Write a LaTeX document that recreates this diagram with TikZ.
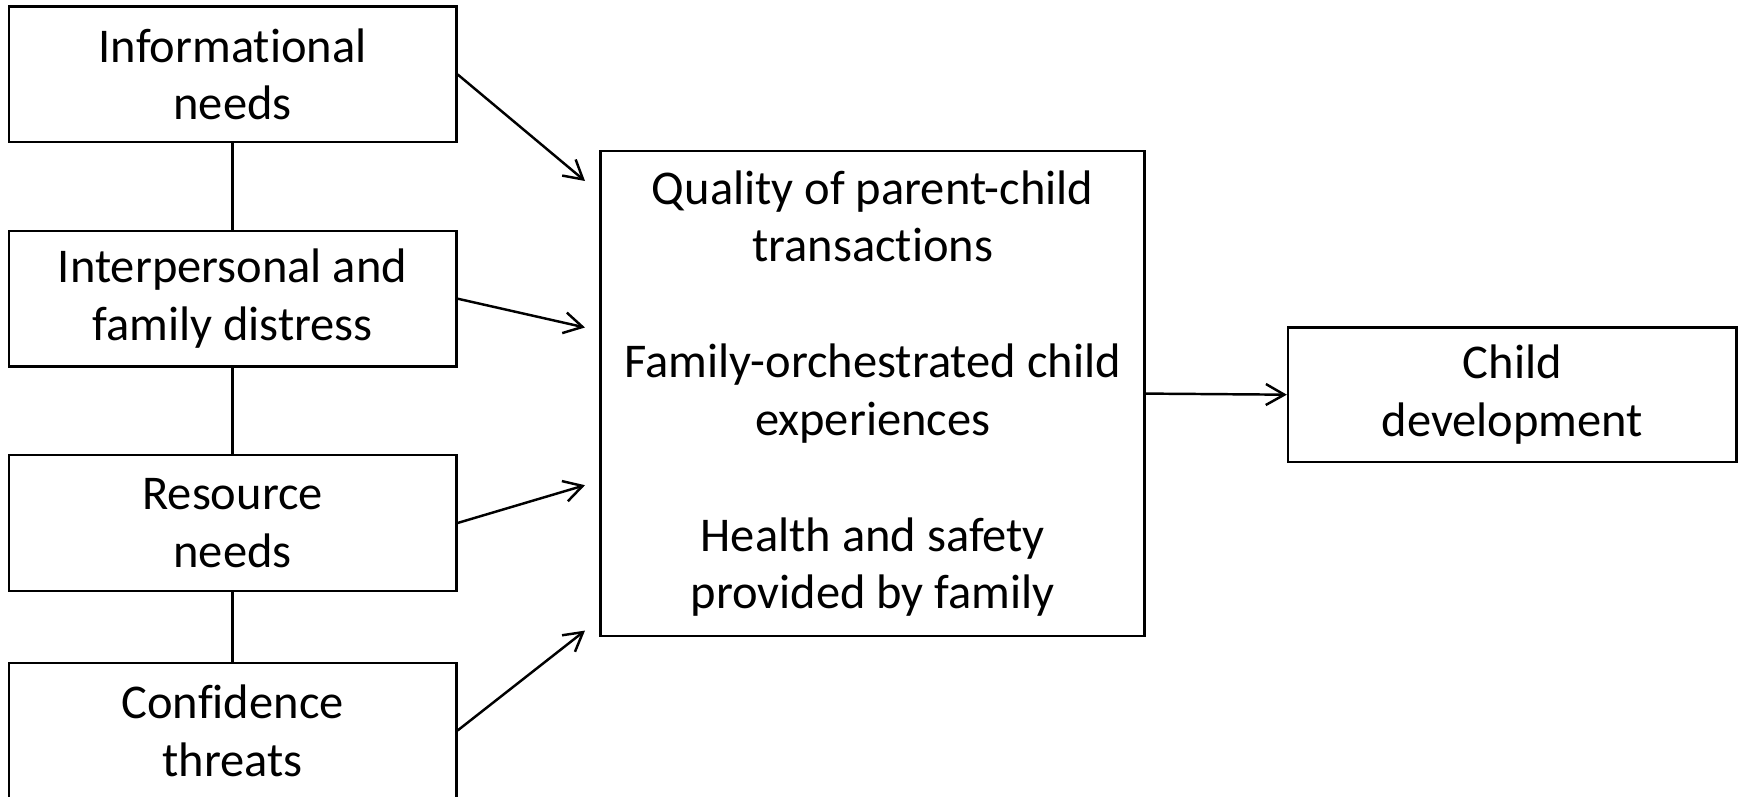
\documentclass[tikz,border=0pt]{standalone}
\usepackage{fontspec}
\setmainfont{Carlito}[Ligatures=NoCommon]
\usetikzlibrary{arrows.meta}
\begin{document}
\begin{tikzpicture}[x=1cm,y=1cm,
  box/.style={draw, line width=0.7pt, minimum width=4.475cm, minimum height=1.355cm, align=center, inner sep=0pt, font=\fontsize{13.8pt}{16.45pt}\selectfont},
  conn/.style={line width=0.7pt},
  arr/.style={line width=0.7pt, -{Straight Barb[length=1.85mm, width=2.1mm]}}]
\useasboundingbox (0,0) rectangle (17.41,7.97);
\node[box] (info) at (2.326,7.226) {Informational\\needs};
\node[box] (inter) at (2.326,4.983) {Interpersonal and\\family distress};
\node[box] (res) at (2.326,2.74) {Resource\\needs};
\node[box] (conf) at (2.326,0.665) {Confidence\\threats};
\node[box, minimum width=5.44cm, minimum height=4.852cm] (mid) at (8.727,4.034)
  {Quality of parent-child\\transactions\\[16.45pt]Family-orchestrated child\\experiences\\[16.45pt]Health and safety\\provided by family};
\node[box, minimum width=4.485cm, minimum height=1.344cm] (dev) at (15.123,4.023) {Child\\development};
\coordinate (t1) at (5.85,6.16);
\coordinate (t2) at (5.85,4.695);
\coordinate (t3) at (5.85,3.118);
\coordinate (t4) at (5.85,1.664);
\draw[conn] (info.south) -- (inter.north);
\draw[conn] (inter.south) -- (res.north);
\draw[conn] (res.south) -- (conf.north);
\draw[arr] (info.east) -- (t1);
\draw[arr] (inter.east) -- (t2);
\draw[arr] (res.east) -- (t3);
\draw[arr] (conf.east) -- (t4);
\draw[arr] (mid.east) -- (dev.west);
\end{tikzpicture}
\end{document}
